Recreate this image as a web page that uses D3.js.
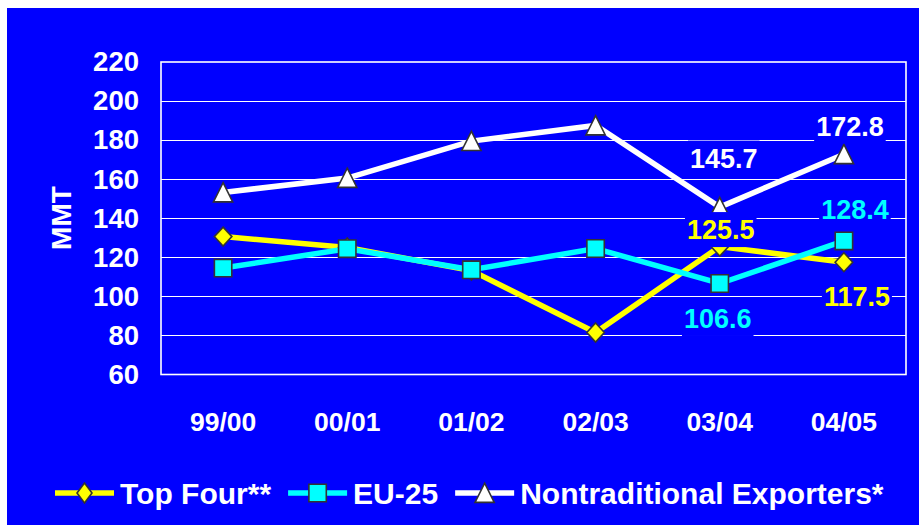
<!DOCTYPE html>
<html>
<head>
<meta charset="utf-8">
<script src="https://cdn.jsdelivr.net/npm/d3@7"></script>
<style>
  html, body { margin: 0; padding: 0; background: #ffffff; }
  svg { display: block; }
  text { font-family: "Liberation Sans", Arial, Helvetica, sans-serif; font-weight: bold; fill: #ffffff; }
</style>
</head>
<body>
<svg id="chart" width="919" height="525"></svg>
<script>
// Marketing years and exports (million metric tons)
const categories = ["99/00", "00/01", "01/02", "02/03", "03/04", "04/05"];
const topFour = [130.6, 125.0, 113.2, 81.5, 125.5, 117.5];
const eu25 = [114.5, 124.4, 113.6, 124.5, 106.6, 128.4];
const nontraditional = [153.2, 160.6, 179.5, 187.5, 145.7, 172.8];
const seriesNames = ["Top Four**", "EU-25", "Nontraditional Exporters*"];
const yTicks = [60, 80, 100, 120, 140, 160, 180, 200, 220];
const yTitle = "MMT";
// Years whose values are written beside the marks
const labelledIndexes = [4, 5];

const BLUE = "#0000ff";
const series = [
  { name: seriesNames[0], values: topFour, color: "#ffff00", shape: "diamond",
    labelOffsets: { 4: [1, -17], 5: [13, 34] } },
  { name: seriesNames[1], values: eu25, color: "#00ffff", shape: "square",
    labelOffsets: { 4: [-2, 35], 5: [11, -32] } },
  { name: seriesNames[2], values: nontraditional, color: "#ffffff", shape: "triangle",
    labelOffsets: { 4: [4, -49], 5: [6, -28] } }
];

const svg = d3.select("#chart");
svg.append("rect").attr("x", 7).attr("y", 8).attr("width", 912).attr("height", 517).attr("fill", BLUE);

const plot = { left: 161, right: 906, top: 62, bottom: 374.5 };

const x = d3.scaleBand().domain(categories).range([plot.left, plot.right]);
const y = d3.scaleLinear().domain([60, 220]).range([plot.bottom, plot.top]);
const cx = c => x(c) + x.bandwidth() / 2;

// Horizontal gridlines
svg.append("g").selectAll("line").data(yTicks.slice(1, -1)).join("line")
  .attr("x1", plot.left).attr("x2", plot.right)
  .attr("y1", d => Math.round(y(d)) + 0.5).attr("y2", d => Math.round(y(d)) + 0.5)
  .attr("stroke", "#ffffff").attr("stroke-width", 1);

// Plot frame
svg.append("rect")
  .attr("x", plot.left).attr("y", plot.top)
  .attr("width", plot.right - plot.left).attr("height", plot.bottom - plot.top)
  .attr("fill", "none").attr("stroke", "#ffffff").attr("stroke-width", 1.6);

// Y axis
const yAxis = svg.append("g").attr("transform", `translate(${plot.left},0)`)
  .call(d3.axisLeft(y).tickValues(yTicks).tickSize(0).tickPadding(22));
yAxis.select(".domain").remove();
yAxis.selectAll("text").attr("fill", "#ffffff").style("font-size", "27.5px")
  .style("font-family", "'Liberation Sans', Arial, sans-serif").style("font-weight", "bold");

// X axis
const xAxis = svg.append("g").attr("transform", `translate(0,${plot.bottom})`)
  .call(d3.axisBottom(x).tickSize(0).tickPadding(38));
xAxis.select(".domain").remove();
xAxis.selectAll("text").attr("fill", "#ffffff").style("font-size", "26.5px")
  .style("font-family", "'Liberation Sans', Arial, sans-serif").style("font-weight", "bold");

// Y axis title
svg.append("text")
  .attr("transform", "translate(61,218) rotate(-90)")
  .attr("text-anchor", "middle").attr("dy", "0.36em")
  .style("font-size", "28px").text(yTitle);

// Marker shapes
function markerPath(shape) {
  if (shape === "diamond") return "M0,-9.5L8.8,0L0,9.5L-8.8,0Z";
  if (shape === "square") return "M-8.7,-8.7H8.7V8.7H-8.7Z";
  return "M0,-9.8L9.6,9.4L-9.6,9.4Z";
}

const line = d3.line().x((d, i) => cx(categories[i])).y(d => y(d));

series.forEach(s => {
  const g = svg.append("g");
  g.append("path").datum(s.values).attr("d", line)
    .attr("fill", "none").attr("stroke", s.color).attr("stroke-width", 5.5)
    .attr("stroke-linejoin", "miter");
  g.selectAll("path.mark").data(s.values).join("path").attr("class", "mark")
    .attr("transform", (d, i) => `translate(${cx(categories[i])},${y(d)})`)
    .attr("d", markerPath(s.shape))
    .attr("fill", s.color).attr("stroke", "#333333").attr("stroke-width", 1.6)
    .attr("stroke-linejoin", "miter");
});

// Value labels on blue boxes
const labelLayer = svg.append("g");
series.forEach(s => {
  labelledIndexes.forEach(i => {
    const v = s.values[i];
    const off = s.labelOffsets[i];
    const lx = cx(categories[i]) + off[0];
    const ly = y(v) + off[1];
    const g = labelLayer.append("g");
    const t = g.append("text").attr("x", lx).attr("y", ly).attr("dy", "0.36em")
      .attr("text-anchor", "middle").style("font-size", "27px")
      .style("fill", s.color).text(v.toFixed(1));
    const w = t.node().getComputedTextLength();
    g.insert("rect", "text")
      .attr("x", lx - w / 2 - 2).attr("y", ly - 17.5)
      .attr("width", w + 4).attr("height", 35).attr("fill", BLUE);
  });
});

// Legend
const legend = svg.append("g");
let lxPos = 55;
const legY = 493;
series.forEach(s => {
  const g = legend.append("g");
  g.append("line").attr("x1", lxPos).attr("x2", lxPos + 59)
    .attr("y1", legY).attr("y2", legY).attr("stroke", s.color).attr("stroke-width", 5.5);
  g.append("path").attr("transform", `translate(${lxPos + 29.5},${legY})`)
    .attr("d", s.shape === "diamond" ? "M0,-10L7.5,0L0,10L-7.5,0Z" : markerPath(s.shape))
    .attr("fill", s.color)
    .attr("stroke", "#333333").attr("stroke-width", 1.6);
  const t = g.append("text").attr("x", lxPos + 65).attr("y", legY).attr("dy", "0.36em")
    .style("font-size", "30px").text(s.name);
  lxPos = lxPos + 65 + t.node().getComputedTextLength() + 17;
});
</script>
</body>
</html>
